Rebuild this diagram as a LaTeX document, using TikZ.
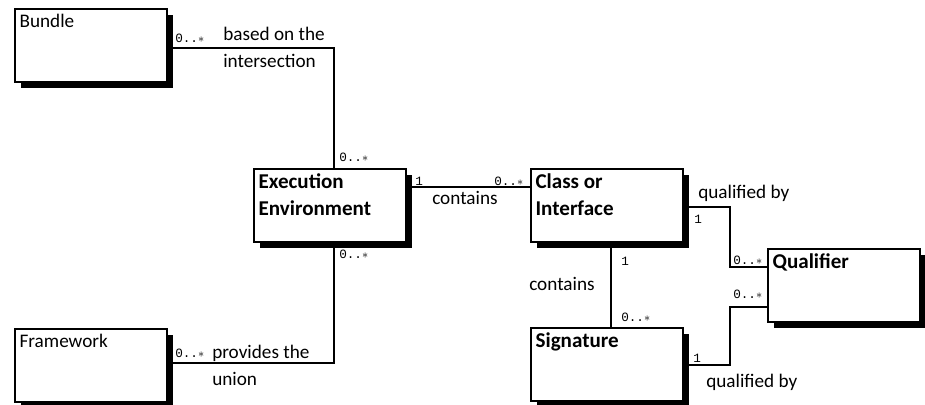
\documentclass[tikz,border=0pt]{standalone}
\usepackage{fontspec}
\setmainfont{Carlito}
\newfontfamily\multfont{Liberation Mono}
\usetikzlibrary{positioning,calc,shadows}
\newcommand{\zeromany}{0..$\ast$}

\begin{document}
\begin{tikzpicture}[x=0.75pt, y=-0.75pt,
    classbox/.style={draw, line width=1.6pt, fill=white, minimum width=114pt, minimum height=55pt,
      anchor=north west, inner sep=0pt,
      drop shadow={opacity=1, fill=black, shadow xshift=4.5pt, shadow yshift=-4.5pt}},
    boxname/.style={anchor=north west, inner xsep=4pt, inner ysep=4.5pt, align=left,
      font=\fontsize{14.4}{20.25}\selectfont},
    boldname/.style={boxname, inner ysep=4pt, font=\fontsize{15.8}{20.25}\selectfont\bfseries},
    conn/.style={line width=1.1pt},
    txt/.style={anchor=base west, inner sep=0pt, align=left, font=\fontsize{14.4}{20.25}\selectfont},
    mult/.style={anchor=base west, inner sep=0pt, font=\multfont\fontsize{9.5}{10}\selectfont}]
  \useasboundingbox (0,0) rectangle (925,404);

  \node[classbox, label={[boxname]north west:Bundle}] (bundle) at (14,8) {};
  \node[classbox, label={[boldname]north west:Execution\\Environment}] (exec) at (253,168) {};
  \node[classbox, label={[boldname]north west:Class or\\Interface}] (class) at (530,168) {};
  \node[classbox, label={[boldname]north west:Qualifier}] (qual) at (767,248) {};
  \node[classbox, label={[boldname]north west:Signature}] (sig) at (530,327) {};
  \node[classbox, label={[boxname]north west:Framework}] (frame) at (14,328) {};

  \draw[conn] ($(bundle.north east)+(0,40)$) -| ($(exec.north)+(4,0)$);
  \draw[conn] ($(exec.north east)+(0,19)$) coordinate (ec) -- (ec -| class.west);
  \draw[conn] ($(class.north east)+(0,39)$) -- ++(46,0) |- ($(qual.north west)+(0,19)$);
  \draw[conn] ($(class.south)+(4,0)$) -- ($(sig.north)+(4,0)$);
  \draw[conn] ($(sig.north east)+(0,38)$) -- ++(46,0) |- ($(qual.north west)+(0,59)$);
  \draw[conn] ($(frame.north east)+(0,35)$) -| ($(exec.south)+(4,0)$);

  \node[txt] (basedon) at (223,67) {based on the\\intersection};
  \node[txt] (contains1) at (432,204) {contains};
  \node[txt] (qualby1) at (698,198) {qualified by};
  \node[txt] (contains2) at (529,290) {contains};
  \node[txt] (qualby2) at (706,387) {qualified by};
  \node[txt] (provides) at (212,385) {provides the\\union};

  \node[mult] (m1) at (175,42) {\zeromany};
  \node[mult] (m2) at (339,161) {\zeromany};
  \node[mult] (m3) at (415,185) {1};
  \node[mult] (m4) at (494,185) {\zeromany};
  \node[mult] (m5) at (339,258) {\zeromany};
  \node[mult] (m6) at (694,223) {1};
  \node[mult] (m7) at (733,264) {\zeromany};
  \node[mult] (m8) at (621,265) {1};
  \node[mult] (m9) at (621,321) {\zeromany};
  \node[mult] (m10) at (733,298) {\zeromany};
  \node[mult] (m11) at (693,362) {1};
  \node[mult] (m12) at (175,357) {\zeromany};
\end{tikzpicture}
\end{document}
